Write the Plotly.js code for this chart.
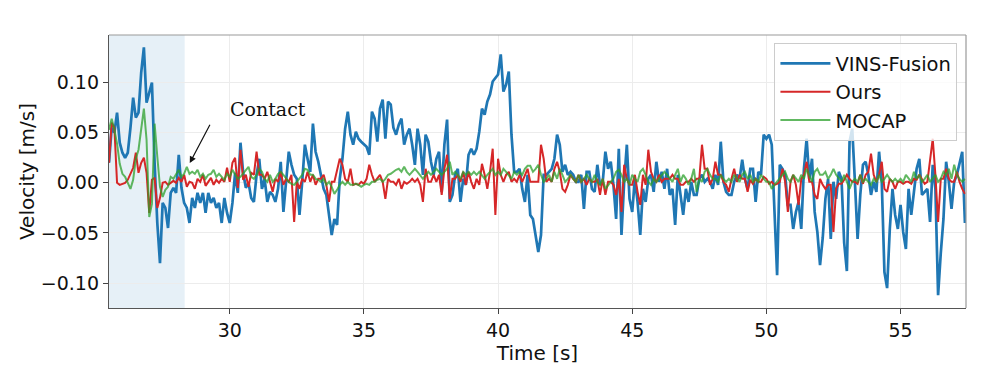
<!DOCTYPE html>
<html>
<head>
<meta charset="utf-8">
<script src="https://cdn.plot.ly/plotly-3.0.1.min.js"></script>
<style>html,body{margin:0;padding:0;background:#fff;}#chart{width:996px;height:371px;}</style>
</head>
<body>
<div id="chart"></div>
<script>
// Sampling grid of the recorded signals (seconds)
const timeStart = 25.5;
const timeStep = 0.1;

// Velocity samples in mm/s (converted to m/s for plotting)
const vinsFusion = [
  20, 55, 50, 70, 40, 30, 25, 30, 55, 85,
  65, 70, 110, 135, 80, 90, 100, 20, -40, -80,
  -20, -25, -45, -10, -5, -10, 28, -5, -20, -25,
  -40, -15, -25, -10, -20, -10, -30, -10, -20, -15,
  -25, -20, -40, -15, -30, -40, -20, 10, -10, 40,
  10, -5, 0, -15, -19, 8, 24, -6, 4, -19,
  -9, -12, -19, -6, 21, -29, 1, 31, 18, 8,
  4, -32, 1, 38, 24, 11, 59, 31, 21, 8,
  -6, -12, -32, -52, -36, -42, 4, 24, 54, 71,
  48, 38, 51, 44, 41, 38, 36, 28, 71, 64,
  41, 74, 83, 44, 81, 78, 55, 48, 58, 64,
  38, 48, 54, 38, 18, 54, 38, 8, 48, 41,
  21, 8, 24, 31, -9, 38, 63, -19, -12, 8,
  14, -19, 4, -2, 28, 34, 28, 34, 51, 74,
  68, 81, 88, 101, 104, 108, 128, 91, 98, 111,
  48, 11, 11, 14, -6, -19, 8, -32, -36, -55,
  -69, -52, 8, 8, 11, 14, 24, 48, 38, 11,
  18, 8, 11, 8, 1, 1, 8, -26, 11, 11,
  -6, -9, 18, -2, 1, 31, 14, 21, -2, -36,
  34, -52, 1, 38, -16, -29, 4, -19, -52, -6,
  -19, 4, 8, -9, 21, 1, 11, -6, 14, -12,
  -6, -42, 8, -12, -32, -6, -19, 1, -12, -12,
  4, 8, 1, 4, 1, -6, 8, -2, 41, 1,
  -9, -12, -12, 1, 8, 4, 23, 4, -6, 14,
  14, -19, 11, 8, 48, 44, 48, 38, -19, -92,
  18, 14, 8, -22, -22, -46, -29, -19, -46, 14,
  44, 4, 24, -29, -49, -82, -55, -16, 4, -56,
  1, -16, 11, 4, -60, -88, 41, 54, 1, -56,
  -12, 18, 21, 8, -12, 1, -9, 31, 1, -89,
  -105, -46, -6, -32, -46, -22, -49, -66, -6, -32,
  -9, 14, 24, -12, -9, -6, -39, 18, -6, -112,
  -70, -36, 21, 1, -26, 1, 8, 21, 31, -40
];

const ours = [
  20, 60, 55, 0, -2, -1, 0, 3, 10, 15,
  30, 10, 20, 25, 10, -30, 3, 5, -25, -15,
  0, 1, -2, 0, 2, 0, 5, 1, 8, -4,
  1, 0, -6, 4, 1, 8, -3, 1, 5, -2,
  3, 0, 4, 1, 15, 1, 20, 25, -5, 33,
  3, 8, -4, 10, 8, 31, 8, 8, 4, 11,
  1, -9, 4, 1, 11, -2, 4, 1, 8, -39,
  1, -6, 4, 1, 11, 1, 8, -2, 4, 4,
  8, -2, -19, 1, 1, 14, 24, 18, 4, 1,
  14, -2, -1, -2, 1, -1, 4, 18, 8, 1,
  4, 8, 1, -16, 4, 1, 1, -2, 4, -6,
  1, -1, 1, 4, 1, 4, -2, -19, 14, 1,
  1, 8, 1, 8, -12, 14, 28, -16, 4, 4,
  8, 1, 11, -2, 11, 1, -6, 4, -2, 19,
  8, -6, 11, 34, -32, 24, 8, 1, 8, 11,
  1, 4, 1, 8, 1, 8, 14, 1, 1, 1,
  1, 38, 24, 1, 4, 1, 14, 21, 11, -6,
  -9, -2, 8, 4, 1, 8, 1, 4, -2, 4,
  1, 1, 4, -12, 4, -12, 1, 1, -2, -12,
  4, -29, 18, 4, -2, -2, 8, -9, -22, 8,
  -2, 33, 11, 4, 1, 8, 1, 4, 4, 4,
  8, 4, 4, -2, -2, 1, 1, 4, 1, 4,
  4, 38, 14, 14, -2, 4, 21, 8, 8, 1,
  -2, -9, 4, 14, 1, 8, 4, 4, -9, 3,
  -1, 4, 1, 1, 6, 4, -1, 1, -2, -1,
  1, 14, 1, -29, 1, 8, -2, -22, 4, 8,
  21, 1, 1, -12, -16, 4, -2, -6, -2, -2,
  -49, -6, -1, -1, 3, 8, 4, 1, 1, -1,
  8, -1, 8, 11, 29, 8, 1, 8, 21, -6,
  -9, 4, 1, -6, 1, 1, -1, 1, 1, -1,
  4, 3, 8, 4, -1, 1, 21, 44, 8, -39,
  4, 4, 14, 4, 1, 1, 11, 1, -6, -11
];

const mocap = [
  53, 64, 53, 39, 19, 9, 6, -1, -6, 3,
  24, 33, 53, 74, 43, -34, -21, 59, 26, -4,
  -14, -7, -4, 6, 4, 9, 13, 6, 9, 16,
  9, 11, 9, 13, 6, 9, 4, 8, 9, 13,
  6, 9, 6, 3, 9, 6, 13, 9, 4, 6,
  9, 13, 16, 6,
  4, 8, 14, 11, 4, 1, 8, 1, 4, 9, 11, 8, 4, 1, -1, -2, 1, 4, 8, 14,
  13, 8, 8, 4, 3, 1, 4, -2, 1, -4, -11, -7, -2, 1, -2, 1, -2, -2, -1, -2,
  -4, -2, -1, -2, 1, 1, 3, 4, 1, 4, 8, 9, 11,
  13, 14, 11, 16, 11, 8, 11, 14, 11, 8, 4, 8, 11, 8, 11, 14, 11, 8, 11, 14,
  21, 8, 11, 8, 4, 11, 8, 11, 8, 11, 8, 11, 8, 4, 8, 11, 14, 8, 11, 8,
  14, 11, 8, 4, 11, 8, 11, 8, 14, 17, 17, 11, 14,
  18, 8, 1, 4, 8, 1, 11, 4, 14, 8, 1, 4, 8, 4, 1, 8, 1, 4, 8, 4,
  1, 8, 1, -2, 4, -6, -2, 1, 4, 11, 13, 8, 1, 4, -2, 8, 4, 1, 11, 14,
  8, 1, -2, 4, 1, 4, 8, 11, 8, 4, 1, 8, 14,
  1, 8, 4, -2, 4, 14, -9, 4, 1, 11, 14, 8, 4, 4, 1, 8, 4, 1, 4, 1,
  8, 4, 1, 8, 11, 4, 8, 1, 4, 1, 8, 4, 1, 1, -6, -2, 1, 4, 8, 11,
  4, 1, 8, 4, 1, 8, 4, 14, 8, 1, 11, 14, 8,
  8, 11, 4, 8, 14, 8, 4, 1, 8, 1, -6, 1, 4, 1, 8, 1, 4, 1, -2, 4,
  1, 8, 1, 4, 8, 4, 1, 4, 1, 4, 1, 8, 4, 1, 11, 4, 8, 1, 4, 8,
  1, 4, 8, 1, 4, 11, 8, 14, 4, 18, 8, 4, 1, 4
];

const seriesNames = ['VINS-Fusion', 'Ours', 'MOCAP'];
const yTickVals = [-0.10, -0.05, 0.00, 0.05, 0.10];
const xTickVals = [30, 35, 40, 45, 50, 55];
const contactWindow = [25.5, 28.32];
const contactLabel = 'Contact';
const contactPoint = [28.51, 0.0197];

const toTime = (arr) => arr.map((_, i) => +(timeStart + i * timeStep).toFixed(2));
const toMs = (arr) => arr.map(v => v / 1000);

const traces = [
  {x: toTime(vinsFusion), y: toMs(vinsFusion), name: seriesNames[0], type: 'scatter', mode: 'lines',
   line: {color: '#1f77b4', width: 2.7}},
  {x: toTime(ours), y: toMs(ours), name: seriesNames[1], type: 'scatter', mode: 'lines',
   line: {color: '#d62728', width: 2}},
  {x: toTime(mocap), y: toMs(mocap), name: seriesNames[2], type: 'scatter', mode: 'lines',
   line: {color: 'rgba(44,160,44,0.75)', width: 2}}
];

const font = 'DejaVu Sans, Arial, sans-serif';

const layout = {
  width: 996, height: 371,
  margin: {l: 109, r: 30, t: 35, b: 63},
  paper_bgcolor: '#fff', plot_bgcolor: '#fff',
  font: {family: font, color: '#111', size: 19},
  showlegend: true,
  legend: {
    x: 0.99, y: 0.97, xanchor: 'right', yanchor: 'top',
    bgcolor: 'rgba(255,255,255,0.8)', bordercolor: '#cccccc', borderwidth: 1,
    font: {family: font, size: 19.5, color: '#111'},
    tracegroupgap: 0, itemwidth: 50
  },
  xaxis: {
    range: [25.5, 57.44], tickvals: xTickVals, ticktext: xTickVals.map(String),
    showgrid: true, gridcolor: '#ececec', gridwidth: 1, zeroline: false,
    showline: true, linecolor: '#555', linewidth: 1.2,
    ticks: 'outside', ticklen: 5, tickcolor: '#444', tickwidth: 1,
    tickfont: {family: font, size: 19, color: '#111'},
    title: {text: 'Time [s]', font: {family: font, size: 20, color: '#111'}, standoff: 2}
  },
  yaxis: {
    range: [-0.1248, 0.1474], tickvals: yTickVals, ticktext: yTickVals.map(v => v.toFixed(2).replace('-', '\u2212')),
    showgrid: true, gridcolor: '#ececec', gridwidth: 1, zeroline: false,
    showline: true, linecolor: '#555', linewidth: 1.2,
    ticks: 'outside', ticklen: 5, tickcolor: '#444', tickwidth: 1,
    tickfont: {family: font, size: 19, color: '#111'},
    title: {text: 'Velocity [m/s]', font: {family: font, size: 20, color: '#111'}, standoff: 0}
  },
  shapes: [
    {type: 'rect', xref: 'x', yref: 'paper', x0: contactWindow[0], x1: contactWindow[1], y0: 0, y1: 1,
     fillcolor: 'rgba(31,119,180,0.11)', line: {width: 0}, layer: 'below'},
    {type: 'line', xref: 'paper', yref: 'paper', x0: 0, x1: 1, y0: 1, y1: 1, line: {color: '#999', width: 1.2}},
    {type: 'line', xref: 'paper', yref: 'paper', x0: 1, x1: 1, y0: 0, y1: 1, line: {color: '#999', width: 1.2}}
  ],
  annotations: [
    {xref: 'x', yref: 'y', x: 31.42, y: 0.0736, text: contactLabel, showarrow: false,
     font: {family: 'DejaVu Serif, serif', size: 19, color: '#111'}},
    {xref: 'x', yref: 'y', x: contactPoint[0], y: contactPoint[1], axref: 'x', ayref: 'y',
     ax: 29.3, ay: 0.0600, text: ' ', font: {size: 1}, showarrow: true,
     arrowhead: 2, arrowsize: 1.1, arrowwidth: 1.2, arrowcolor: '#111', standoff: 0, startstandoff: 0}
  ]
};

Plotly.newPlot('chart', traces, layout, {staticPlot: true, displayModeBar: false});
</script>
</body>
</html>
